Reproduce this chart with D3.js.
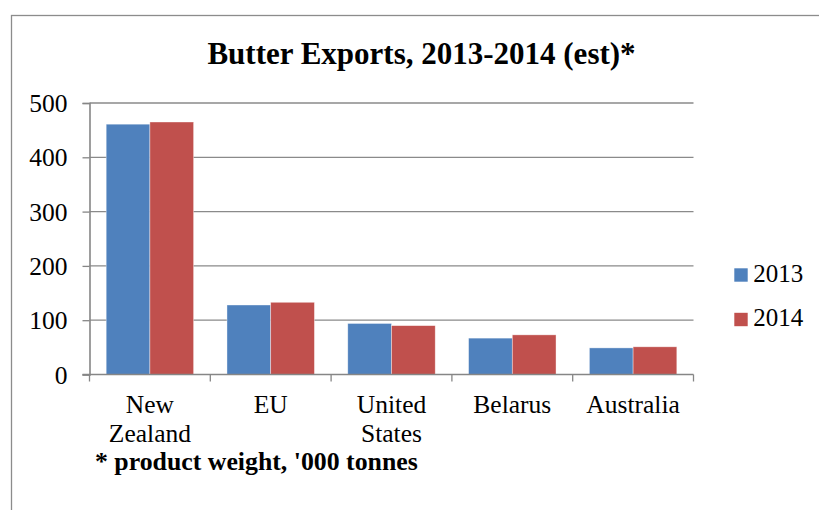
<!DOCTYPE html>
<html>
<head>
<meta charset="utf-8">
<script src="https://cdn.jsdelivr.net/npm/d3@7/dist/d3.min.js"></script>
<style>
  html, body { margin: 0; padding: 0; background: #fff; }
  svg { display: block; }
</style>
</head>
<body>
<svg id="chart" width="819" height="510"></svg>
<script>
// Butter exports by exporter, thousand tonnes product weight
const categories = [["New", "Zealand"], ["EU"], ["United", "States"], ["Belarus"], ["Australia"]];
const seriesNames = ["2013", "2014"];
const exports2013 = [461, 128, 94, 67, 49];
const exports2014 = [465, 133, 90, 73, 51];
const yTicks = [0, 100, 200, 300, 400, 500];
const colors = ["#4F81BD", "#C0504D"];

const FONT = "'Liberation Serif', 'Times New Roman', Tinos, 'DejaVu Serif', serif";

const svg = d3.select("#chart");
const W = 819, H = 510;
const plot = { left: 89.5, right: 693.5, top: 103, bottom: 374.5 };

// outer chart frame (runs off the right and bottom edges)
svg.append("rect")
  .attr("x", 11.5).attr("y", 15.5)
  .attr("width", W + 20).attr("height", H + 20)
  .attr("fill", "#fff").attr("stroke", "#8c8c8c").attr("stroke-width", 1.3);

const catKeys = categories.map(c => c.join(" "));
const x = d3.scaleBand().domain(catKeys).range([plot.left, plot.right]).paddingInner(0).paddingOuter(0);
const y = d3.scaleLinear().domain([0, 500]).range([plot.bottom, plot.top]);
const inner = d3.scaleBand().domain(seriesNames)
  .range([0, x.bandwidth()]).paddingInner(0).paddingOuter(0.3815);

// horizontal gridlines
svg.append("g").selectAll("line")
  .data(yTicks.filter(t => t > 0))
  .join("line")
  .attr("x1", plot.left).attr("x2", plot.right)
  .attr("y1", d => y(d)).attr("y2", d => y(d))
  .attr("stroke", "#8a8a8a").attr("stroke-width", 1.3);

// bars
const rows = catKeys.map((k, i) => ({ key: k, values: [exports2013[i], exports2014[i]] }));
svg.append("g").selectAll("g")
  .data(rows)
  .join("g")
  .attr("transform", d => `translate(${x(d.key)},0)`)
  .selectAll("rect")
  .data(d => d.values.map((v, j) => ({ s: seriesNames[j], v, j })))
  .join("rect")
  .attr("x", d => inner(d.s))
  .attr("width", inner.bandwidth())
  .attr("y", d => y(d.v))
  .attr("height", d => y(0) - y(d.v))
  .attr("fill", d => colors[d.j])
  .attr("stroke", "#ffffff").attr("stroke-opacity", 0.55).attr("stroke-width", 0.7);

// y axis
const yAxis = svg.append("g")
  .attr("transform", `translate(${plot.left},0)`)
  .call(d3.axisLeft(y).tickValues(yTicks).tickSize(7).tickPadding(15).tickFormat(d3.format("d")))
  .attr("font-family", FONT).attr("font-size", 25.5);
yAxis.select(".domain").attr("stroke", "#868686").attr("stroke-width", 1.6);
yAxis.selectAll(".tick line").attr("stroke", "#868686").attr("stroke-width", 1.3);
yAxis.selectAll(".tick text").attr("fill", "#000").attr("dy", "0.34em");

// x axis with ticks on band boundaries
const xg = svg.append("g").attr("transform", `translate(0,${plot.bottom})`);
xg.append("line")
  .attr("x1", plot.left - 7).attr("x2", plot.right)
  .attr("stroke", "#868686").attr("stroke-width", 1.6);
const bounds = catKeys.map(k => x(k)).concat([x(catKeys[catKeys.length - 1]) + x.bandwidth()]);
xg.selectAll("line.tk")
  .data(bounds)
  .join("line").attr("class", "tk")
  .attr("x1", d => d).attr("x2", d => d)
  .attr("y1", 0).attr("y2", 7)
  .attr("stroke", "#868686").attr("stroke-width", 1.3);

// category labels, wrapped over two lines
xg.selectAll("text.cat")
  .data(categories)
  .join("text").attr("class", "cat")
  .attr("text-anchor", "middle")
  .attr("font-family", FONT)
  .attr("font-size", 25.5)
  .attr("x", (d, i) => x(catKeys[i]) + x.bandwidth() / 2)
  .attr("y", 38.5)
  .selectAll("tspan")
  .data(d => d)
  .join("tspan")
  .attr("x", function () { return d3.select(this.parentNode).attr("x"); })
  .attr("dy", (d, i) => i === 0 ? 0 : 29)
  .text(d => d);

// title
svg.append("text")
  .attr("x", 421.5).attr("y", 64)
  .attr("text-anchor", "middle")
  .attr("font-family", FONT)
  .attr("font-size", 31).attr("font-weight", "bold")
  .text("Butter Exports, 2013-2014 (est)*");

// footnote
svg.append("text")
  .attr("x", 95).attr("y", 470)
  .attr("font-family", FONT)
  .attr("font-size", 25.8).attr("font-weight", "bold")
  .text("* product weight, '000 tonnes");

// legend
const legend = svg.append("g").selectAll("g")
  .data(seriesNames)
  .join("g")
  .attr("transform", (d, i) => `translate(734.3,${268.3 + i * 44.5})`);
legend.append("rect")
  .attr("width", 13.4).attr("height", 13.4)
  .attr("fill", (d, i) => colors[i]);
legend.append("text")
  .attr("x", 19).attr("y", 13.4)
  .attr("font-family", FONT)
  .attr("font-size", 25)
  .text(d => d);
</script>
</body>
</html>
